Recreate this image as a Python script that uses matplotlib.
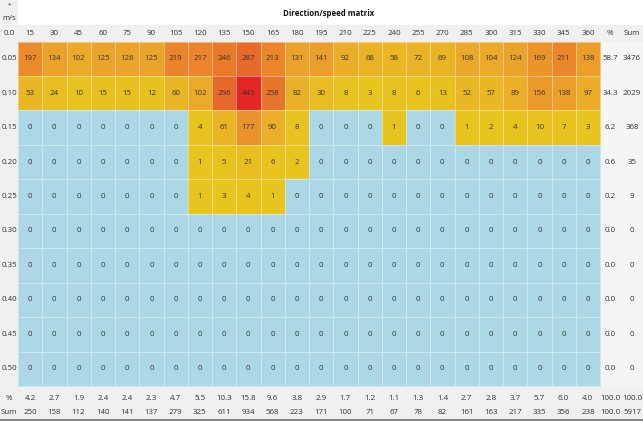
import numpy as np
import matplotlib
matplotlib.use("Agg")
import matplotlib.pyplot as plt
from matplotlib.colors import LinearSegmentedColormap, Normalize
from matplotlib.patches import Rectangle

# ---- data ----
directions = [15, 30, 45, 60, 75, 90, 105, 120, 135, 150, 165, 180,
              195, 210, 225, 240, 255, 270, 285, 300, 315, 330, 345, 360]
speeds = ["0.05", "0.10", "0.15", "0.20", "0.25", "0.30", "0.35", "0.40", "0.45", "0.50"]

row_005 = [197, 134, 102, 125, 126, 125, 219, 217, 246, 287, 213, 131,
           141, 92, 68, 58, 72, 69, 108, 104, 124, 169, 211, 138]
row_010 = [53, 24, 10, 15, 15, 12, 60, 102, 296, 445, 258, 82,
           30, 8, 3, 8, 6, 13, 52, 57, 89, 156, 138, 97]
row_015 = [0, 0, 0, 0, 0, 0, 0, 4, 61, 177, 90, 8,
           0, 0, 0, 1, 0, 0, 1, 2, 4, 10, 7, 3]
row_020 = [0, 0, 0, 0, 0, 0, 0, 1, 5, 21, 6, 2,
           0, 0, 0, 0, 0, 0, 0, 0, 0, 0, 0, 0]
row_025 = [0, 0, 0, 0, 0, 0, 0, 1, 3, 4, 1, 0,
           0, 0, 0, 0, 0, 0, 0, 0, 0, 0, 0, 0]
row_zero = [0] * 24

row_pct = ["58.7", "34.3", "6.2", "0.6", "0.2", "0.0", "0.0", "0.0", "0.0", "0.0"]
row_sum = ["3476", "2029", "368", "35", "9", "0", "0", "0", "0", "0"]

col_pct = ["4.2", "2.7", "1.9", "2.4", "2.4", "2.3", "4.7", "5.5", "10.3", "15.8", "9.6", "3.8",
           "2.9", "1.7", "1.2", "1.1", "1.3", "1.4", "2.7", "2.8", "3.7", "5.7", "6.0", "4.0",
           "100.0", "100.0"]
col_sum = ["250", "158", "112", "140", "141", "137", "279", "325", "611", "934", "568", "223",
           "171", "100", "71", "67", "78", "82", "161", "163", "217", "335", "356", "238",
           "100.0", "5917"]

matrix = np.array([row_005, row_010, row_015, row_020, row_025,
                   row_zero, row_zero, row_zero, row_zero, row_zero])

# ---- layout (pixels) ----
W, H = 643, 421
left_w = 18
grid_right = 600
pct_x, sum_x = 610, 632
title_bottom = 25
grid_top = 41.5
grid_bottom = 386
pct_y, sum_y = 398, 412

plt.rcParams['font.family'] = ['Open Sans', 'DejaVu Sans']
fs = 5.7
txt = '#333333'
gray = '#f0f0f0'

fig = plt.figure(figsize=(W / 100, H / 100), dpi=100)
ax = fig.add_axes([0, 0, 1, 1])
ax.set_xlim(0, W)
ax.set_ylim(H, 0)
ax.axis('off')

# grey bands (header row, left column, right columns, footer)
ax.add_patch(Rectangle((0, title_bottom), W, grid_top - title_bottom, color=gray, lw=0))
ax.add_patch(Rectangle((0, 0), left_w, H, color=gray, lw=0))
ax.add_patch(Rectangle((grid_right, grid_top), W - grid_right, grid_bottom - grid_top,
                       color='#f5f5f5', lw=0))
ax.add_patch(Rectangle((0, grid_bottom), W, H - grid_bottom, color=gray, lw=0))
ax.axhline(H - 1.5, color='#8a8a8a', lw=1.5)

# colour scale: zero -> light blue, otherwise yellow -> orange -> red
cmap = LinearSegmentedColormap.from_list("dirspeed", [
    (0.0, '#e8c41e'), (0.25, '#eba82a'), (0.45, '#eb8a2a'),
    (0.67, '#e8662a'), (1.0, '#e42626')])
cmap.set_under('#acd8e6')
norm = Normalize(vmin=0.5, vmax=matrix.max())

x_edges = np.linspace(left_w, grid_right, len(directions) + 1)
y_edges = np.linspace(grid_top, grid_bottom, len(speeds) + 1)
ax.pcolormesh(x_edges, y_edges, matrix, cmap=cmap, norm=norm,
              edgecolors=(1, 1, 1, 0.4), linewidth=0.5)

xc = (x_edges[:-1] + x_edges[1:]) / 2
yc = (y_edges[:-1] + y_edges[1:]) / 2

for i in range(len(speeds)):
    for j in range(len(directions)):
        ax.text(xc[j], yc[i], str(matrix[i, j]), ha='center', va='center',
                fontsize=fs, color=txt)
    ax.text(left_w / 2, yc[i], speeds[i], ha='center', va='center', fontsize=fs, color=txt)
    ax.text(pct_x, yc[i], row_pct[i], ha='center', va='center', fontsize=fs, color=txt)
    ax.text(sum_x, yc[i], row_sum[i], ha='center', va='center', fontsize=fs, color=txt)

# header row
head_y = (title_bottom + grid_top) / 2
ax.text(left_w / 2, head_y, "0.0", ha='center', va='center', fontsize=fs, color=txt)
for j, d in enumerate(directions):
    ax.text(xc[j], head_y, str(d), ha='center', va='center', fontsize=fs, color=txt)
ax.text(pct_x, head_y, "%", ha='center', va='center', fontsize=fs, color=txt)
ax.text(sum_x, head_y, "Sum", ha='center', va='center', fontsize=fs, color=txt)

# footer rows
foot_x = list(xc) + [pct_x, sum_x]
ax.text(left_w / 2, pct_y, "%", ha='center', va='center', fontsize=fs, color=txt)
ax.text(left_w / 2, sum_y, "Sum", ha='center', va='center', fontsize=fs, color=txt)
for x, p, s in zip(foot_x, col_pct, col_sum):
    ax.text(x, pct_y, p, ha='center', va='center', fontsize=fs, color=txt)
    ax.text(x, sum_y, s, ha='center', va='center', fontsize=fs, color=txt)

# title and corner
ax.text(329, 13, "Direction/speed matrix", ha='center', va='center',
        fontsize=fs, fontweight='bold', color='#111111')
ax.text(left_w / 2, 5, "*", ha='center', va='center', fontsize=4.5, color=txt)
ax.text(left_w / 2, 18, "m/s", ha='center', va='center', fontsize=fs, color=txt)

fig.savefig("out.png", dpi=100)
